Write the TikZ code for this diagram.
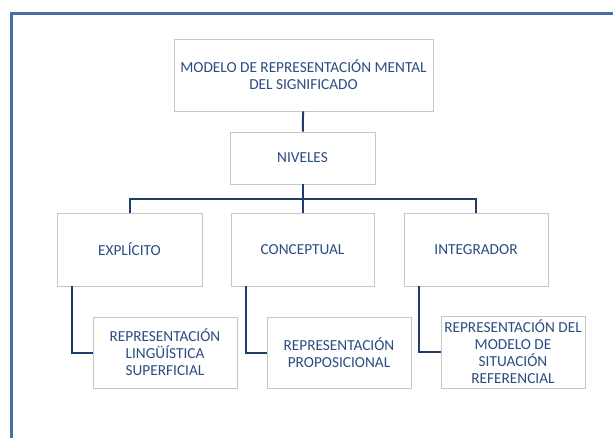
\documentclass[tikz,border=0pt]{standalone}
\usepackage{fontspec}
\setmainfont{Carlito}
\usepackage{tikz}
\usetikzlibrary{shadows}
\definecolor{txtblue}{HTML}{2C4C82}
\definecolor{linkblue}{HTML}{1F3D6B}
\definecolor{frameblue}{HTML}{4A6FA8}
\tikzset{
	box/.style={draw=black!22, line width=0.8pt, fill=white, text=txtblue, align=center, inner sep=2pt,
		font=\fontsize{15.3}{17}\selectfont, drop shadow={opacity=0.35, shadow xshift=1.3pt, shadow yshift=-1.3pt}},
	link/.style={draw=linkblue, line width=2pt}
}
\begin{document}
\begin{tikzpicture}[x=1pt,y=-1pt]
	\useasboundingbox (0,0) rectangle (613,438);
	\draw[frameblue, line width=2.2pt] (11.5,438) -- (11.5,13.5) -- (613,13.5);
	\node[box, minimum width=259pt, minimum height=72pt] (model) at (303.5,75) {MODELO DE REPRESENTACIÓN MENTAL\\DEL SIGNIFICADO};
	\node[box, minimum width=145pt, minimum height=52pt] (niveles) at (302.5,158) {NIVELES};
	\node[box, minimum width=145pt, minimum height=73pt] (explicito) at (129.5,249.5) {EXPLÍCITO};
	\node[box, minimum width=143pt, minimum height=73pt] (conceptual) at (302.5,249.5) {CONCEPTUAL};
	\node[box, minimum width=144pt, minimum height=73pt] (integrador) at (476,249.5) {INTEGRADOR};
	\node[box, minimum width=144pt, minimum height=71pt] (superficial) at (165,352.5) {REPRESENTACIÓN\\LINGÜÍSTICA\\SUPERFICIAL};
	\node[box, minimum width=144pt, minimum height=71pt] (proposicional) at (339,352.5) {REPRESENTACIÓN\\PROPOSICIONAL};
	\node[box, minimum width=144pt, minimum height=72pt] (situacion) at (513,352) {REPRESENTACIÓN DEL\\MODELO DE\\SITUACIÓN\\REFERENCIAL};
	\coordinate (split) at (302.5,199);
	\draw[link] (model) -- (niveles);
	\draw[link] (niveles) -- (split);
	\draw[link] (explicito.north) |- (split) -| (integrador.north);
	\draw[link] (split) -- (conceptual);
	\draw[link] ([xshift=15pt]explicito.south west) |- (superficial.west);
	\draw[link] ([xshift=15pt]conceptual.south west) |- (proposicional.west);
	\draw[link] ([xshift=15pt]integrador.south west) |- (situacion.west);
\end{tikzpicture}
\end{document}
